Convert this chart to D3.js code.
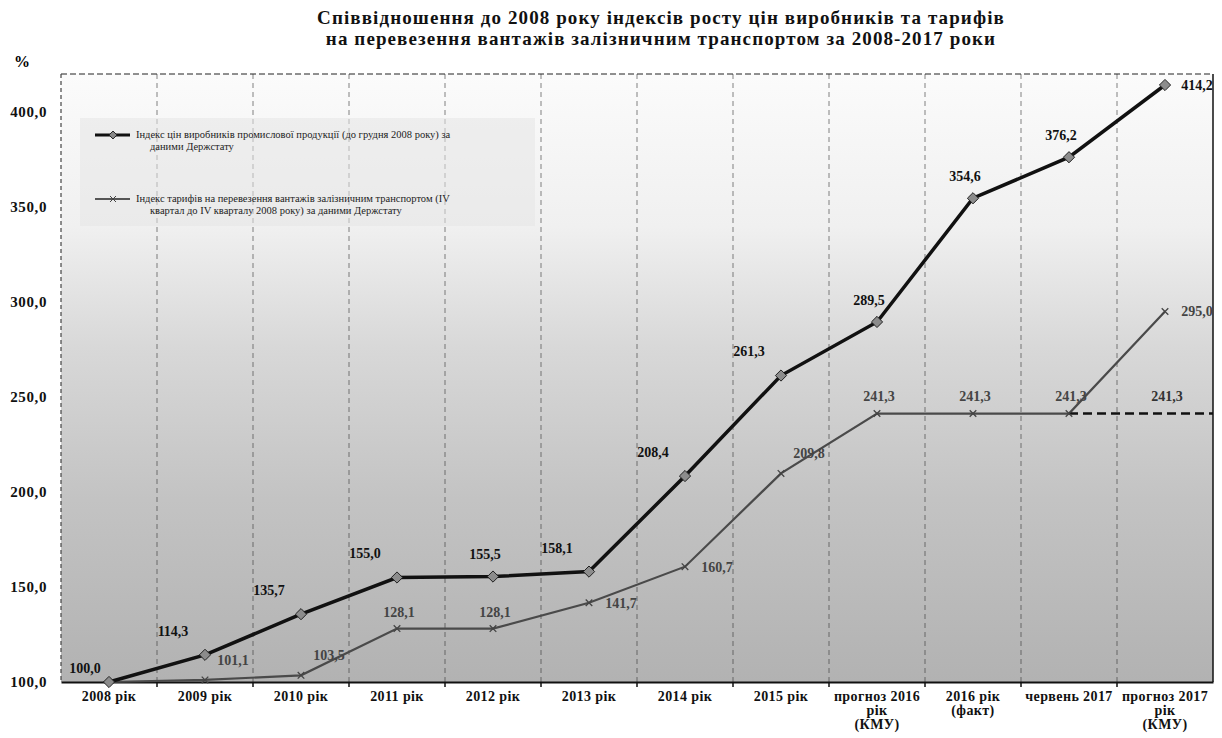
<!DOCTYPE html>
<html><head><meta charset="utf-8">
<script src="https://cdn.jsdelivr.net/npm/d3@7"></script>
<style>
html,body{margin:0;padding:0;background:#fff;}
</style></head>
<body>
<svg id="chart" width="1222" height="738"></svg>
<script>
// ---- data ----
const categories = ['2008 рік','2009 рік','2010 рік','2011 рік','2012 рік','2013 рік','2014 рік','2015 рік',
  'прогноз 2016\nрік\n(КМУ)','2016 рік\n(факт)','червень 2017','прогноз 2017\nрік\n(КМУ)'];
const producerIndex = [100.0,114.3,135.7,155.0,155.5,158.1,208.4,261.3,289.5,354.6,376.2,414.2];
const tariffIndex   = [100.0,101.1,103.5,128.1,128.1,141.7,160.7,209.8,241.3,241.3,241.3,295.0];
const tariffFlat    = [null,null,null,null,null,null,null,null,null,null,241.3,241.3];
const yTicks = [100,150,200,250,300,350,400];
const producerLabelPos = ['left','aboveleft','aboveleft','aboveleft','above','aboveleft','aboveleft','aboveleft','above','above','above','right'];
const tariffLabelPos   = [null,'upright','upright','up','up','right','right','upright','up','up','up','right'];
const flatLabelPos     = [null,null,null,null,null,null,null,null,null,null,null,'up'];
const titleLines = ['Співвідношення до 2008 року індексів росту цін  виробників та тарифів',
  'на перевезення вантажів залізничним транспортом за 2008-2017 роки'];
const legendItems = [
  ['Індекс цін виробників промислової продукції (до грудня 2008 року) за','даними Держстату'],
  ['Індекс тарифів на перевезення вантажів залізничним транспортом (IV','квартал до IV кварталу 2008 року) за даними Держстату']
];

// ---- layout ----
const SERIF = '"Liberation Serif","Times New Roman","DejaVu Serif",serif';
const svg = d3.select('#chart');
const m = {left:61, right:1213, top:74, bottom:682};
const x = d3.scaleBand().domain(categories).range([m.left, m.right]).padding(0);
const y = d3.scaleLinear().domain([100,420]).range([m.bottom, m.top]);
const cx = c => x(c) + x.bandwidth()/2;
const fmt = v => d3.format('.1f')(v).replace('.', ',');
const offs = {left:[-24,-14], aboveleft:[-32,-24], above:[-8,-22], right:[32,0], upright:[28,-20], up:[2,-17]};

const defs = svg.append('defs');
const grad = defs.append('linearGradient').attr('id','bg').attr('x1',0).attr('y1',0).attr('x2',0).attr('y2',1);
[[0,'#fbfbfb'],[0.25,'#f0f0f0'],[0.45,'#d8d8d8'],[0.7,'#c3c3c3'],[1,'#b2b2b2']].forEach(s=>grad.append('stop').attr('offset',s[0]).attr('stop-color',s[1]));

svg.append('rect').attr('x',m.left).attr('y',m.top).attr('width',m.right-m.left).attr('height',m.bottom-m.top).attr('fill','url(#bg)');

// title
svg.append('g').selectAll('text').data(titleLines).join('text')
  .attr('x',661).attr('y',(d,i)=>24+i*21).attr('text-anchor','middle').attr('font-family',SERIF)
  .attr('font-size',19).attr('letter-spacing',1.1).attr('font-weight','bold').attr('fill','#111').text(d=>d);
svg.append('text').attr('x',22).attr('y',67).attr('text-anchor','middle').attr('font-family',SERIF).attr('font-size',16).attr('font-weight','bold').text('%');

// vertical grid at band boundaries
const bounds = categories.slice(1).map(c=>x(c));
svg.append('g').selectAll('line').data(bounds).join('line')
  .attr('x1',d=>d).attr('x2',d=>d).attr('y1',m.top).attr('y2',m.bottom)
  .attr('stroke','#333').attr('stroke-width',1).attr('stroke-dasharray','5,4').attr('opacity',0.6);

// frame
svg.append('line').attr('x1',m.left).attr('x2',m.right).attr('y1',m.top).attr('y2',m.top).attr('stroke','#222').attr('stroke-width',1.2).attr('stroke-dasharray','6,3');
svg.append('line').attr('x1',m.left).attr('x2',m.left).attr('y1',m.top).attr('y2',m.bottom).attr('stroke','#444').attr('stroke-width',1.2).attr('stroke-dasharray','4,3');
svg.append('line').attr('x1',m.right).attr('x2',m.right).attr('y1',m.top).attr('y2',m.bottom).attr('stroke','#111').attr('stroke-width',1.5);

// y axis
const yAxis = svg.append('g').attr('transform',`translate(${m.left},0)`)
  .call(d3.axisLeft(y).tickValues(yTicks).tickFormat(fmt).tickSize(0).tickPadding(14));
yAxis.attr('font-family',SERIF);
yAxis.select('.domain').remove();
yAxis.selectAll('text').attr('font-size',15).attr('letter-spacing',0.6).attr('font-weight','bold').attr('fill','#111').attr('font-family',SERIF);

// x axis
const xAxis = svg.append('g').attr('transform',`translate(0,${m.bottom})`)
  .call(d3.axisBottom(x).tickSize(0).tickFormat(''));
xAxis.select('.domain').attr('stroke','#111').attr('stroke-width',2);
svg.append('g').selectAll('line').data(bounds).join('line')
  .attr('x1',d=>d).attr('x2',d=>d).attr('y1',m.bottom).attr('y2',m.bottom+5).attr('stroke','#111').attr('stroke-width',1.5);
const xl = svg.append('g').selectAll('text').data(categories).join('text')
  .attr('x',d=>cx(d)).attr('y',m.bottom+19).attr('text-anchor','middle').attr('font-family',SERIF)
  .attr('font-size',14).attr('letter-spacing',0.4).attr('font-weight','bold').attr('fill','#111');
xl.each(function(d){
  const t=d3.select(this);
  d.split('\n').forEach((s,i)=>t.append('tspan').attr('x',cx(d)).attr('dy',i?14:0).text(s));
});

// legend
svg.append('rect').attr('x',80).attr('y',118).attr('width',455).attr('height',108).attr('fill','#e6e6e6').attr('opacity',0.55);
const legY = [135,199];
legendItems.forEach((lines,i)=>{
  const g = svg.append('g');
  g.append('line').attr('x1',95).attr('x2',130).attr('y1',legY[i]).attr('y2',legY[i])
    .attr('stroke',i?'#555':'#111').attr('stroke-width',i?2:3);
  if(!i) g.append('path').attr('d',d3.symbol(d3.symbolDiamond2,40)()).attr('transform',`translate(113,${legY[i]})`).attr('fill','#888').attr('stroke','#222');
  else g.append('path').attr('d',d3.symbol(d3.symbolX,25)()).attr('transform',`translate(113,${legY[i]})`).attr('stroke','#444').attr('fill','none');
  lines.forEach((s,j)=>g.append('text').attr('x',j?150:136).attr('y',legY[i]+3+j*12).attr('font-family',SERIF).attr('font-size',10.5).attr('fill','#222').text(s));
});

// lines
const idx = d3.range(categories.length);
const line = d3.line().defined(d=>d.v!=null).x(d=>d.x).y(d=>y(d.v));
const pts = arr => idx.map(i=>({x:cx(categories[i]), v:arr[i], i}));

svg.append('path').datum(pts(tariffIndex)).attr('d',line).attr('fill','none').attr('stroke','#4a4a4a').attr('stroke-width',2.2);
// flat dashed continuation (to band edge of last category)
const flatPts = pts(tariffFlat).filter(d=>d.v!=null);
flatPts.push({x:x(categories[categories.length-1])+x.bandwidth(), v:tariffFlat[tariffFlat.length-1]});
svg.append('path').datum(flatPts).attr('d',line).attr('fill','none').attr('stroke','#111').attr('stroke-width',2.5).attr('stroke-dasharray','9,5');
svg.append('path').datum(pts(producerIndex)).attr('d',line).attr('fill','none').attr('stroke','#111').attr('stroke-width',3.5);

// markers
svg.append('g').selectAll('path').data(pts(tariffIndex).slice(1)).join('path')
  .attr('d',d3.symbol(d3.symbolX,30)()).attr('transform',d=>`translate(${d.x},${y(d.v)})`)
  .attr('stroke','#444').attr('stroke-width',1.3).attr('fill','none');
svg.append('g').selectAll('path').data(pts(producerIndex)).join('path')
  .attr('d',d3.symbol(d3.symbolDiamond2,80)()).attr('transform',d=>`translate(${d.x},${y(d.v)})`)
  .attr('fill','#8c8c8c').attr('stroke','#222').attr('stroke-width',1);

// data labels
function labels(arr,pos,color){
  svg.append('g').selectAll('text').data(pts(arr).filter(d=>d.v!=null && pos[d.i])).join('text')
    .attr('x',d=>d.x+offs[pos[d.i]][0]).attr('y',d=>y(d.v)+offs[pos[d.i]][1]).attr('dy','0.35em')
    .attr('text-anchor','middle').attr('font-family',SERIF).attr('font-size',14).attr('font-weight','bold').attr('fill',color)
    .text(d=>fmt(d.v));
}
labels(tariffIndex,tariffLabelPos,'#444');
labels(tariffFlat,flatLabelPos,'#333');
labels(producerIndex,producerLabelPos,'#111');
</script>
</body></html>
